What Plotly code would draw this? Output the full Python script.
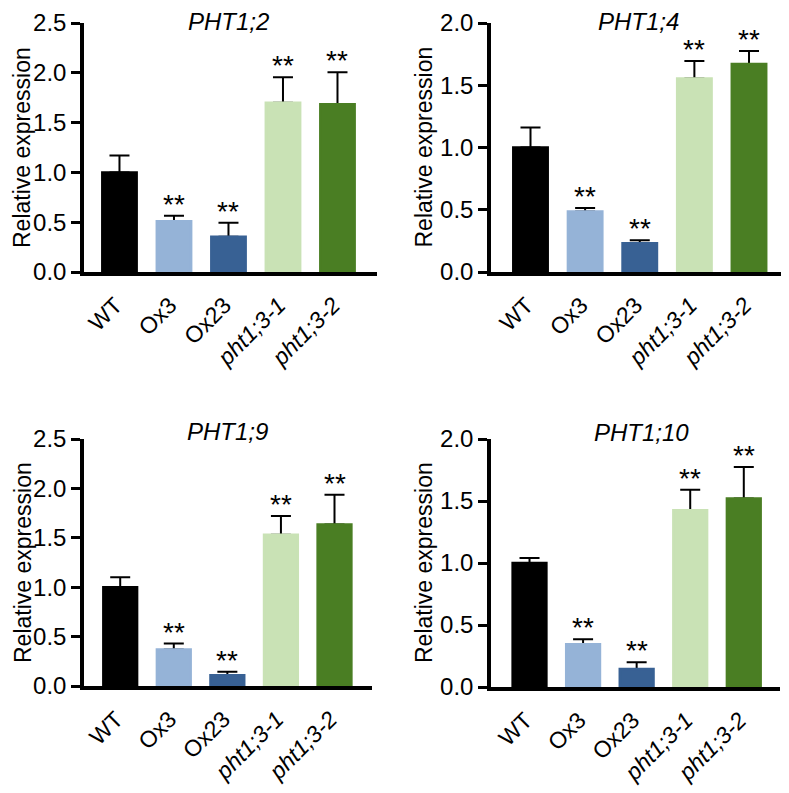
import plotly.graph_objects as go

# ---------------- data ----------------
categories = ["WT", "Ox3", "Ox23", "pht1;3-1", "pht1;3-2"]
tick_labels = ["WT", "Ox3", "Ox23", "<i>pht1;3-1</i>", "<i>pht1;3-2</i>"]
bar_colors = ["#000000", "#95B3D7", "#386194", "#C9E2B5", "#4A7E23"]

genes = ["PHT1;2", "PHT1;4", "PHT1;9", "PHT1;10"]

pht1_2_mean = [1.00, 0.51, 0.355, 1.70, 1.685]
pht1_2_sd = [0.17, 0.055, 0.14, 0.255, 0.32]

pht1_4_mean = [1.00, 0.485, 0.23, 1.555, 1.67]
pht1_4_sd = [0.16, 0.03, 0.025, 0.14, 0.105]

pht1_9_mean = [1.00, 0.37, 0.11, 1.53, 1.635]
pht1_9_sd = [0.10, 0.06, 0.035, 0.19, 0.30]

pht1_10_mean = [1.00, 0.345, 0.145, 1.425, 1.52]
pht1_10_sd = [0.04, 0.04, 0.055, 0.165, 0.255]

significance = ["", "**", "**", "**", "**"]

y_max = [2.5, 2.0, 2.5, 2.0]

# ---------------- layout helpers ----------------
# the page body has an 8px margin, so the figure is sized to fit the window
OFF = 8
W, H = 789 - OFF, 793 - OFF
FONT = "Arial, Liberation Sans, Helvetica, sans-serif"


def fx(px):
    return (px - OFF) / W


def fy(py):
    return 1 - (py - OFF) / H


panels = [
    dict(x0=84, x1=377, yt=23, yb=272, xr=[-0.651, 4.725], tcx=228, tcy=22, ycx=22.5),
    dict(x0=491, x1=782, yt=23, yb=272, xr=[-0.723, 4.604], tcx=638, tcy=22, ycx=424),
    dict(x0=84, x1=372, yt=439, yb=686, xr=[-0.676, 4.70], tcx=227, tcy=431, ycx=22.5),
    dict(x0=491, x1=780, yt=439, yb=687, xr=[-0.719, 4.676], tcx=641, tcy=432, ycx=424),
]
means = [pht1_2_mean, pht1_4_mean, pht1_9_mean, pht1_10_mean]
sds = [pht1_2_sd, pht1_4_sd, pht1_9_sd, pht1_10_sd]

fig = go.Figure()
annotations = []

for i, p in enumerate(panels):
    n = i + 1
    xa = "x" if n == 1 else f"x{n}"
    ya = "y" if n == 1 else f"y{n}"
    # error bars (drawn first, under the bars so no lower cap shows)
    fig.add_trace(go.Bar(
        x=categories, y=means[i], xaxis=xa, yaxis=ya,
        marker=dict(color="rgba(0,0,0,0)", line=dict(width=0)),
        width=0.62, hoverinfo="skip",
        error_y=dict(type="data", symmetric=False, array=sds[i],
                     arrayminus=[0] * len(categories),
                     color="black", thickness=2, width=10),
    ))
    fig.add_trace(go.Bar(
        x=categories, y=means[i], xaxis=xa, yaxis=ya,
        marker=dict(color=bar_colors, line=dict(color=bar_colors, width=2.5)),
        width=0.63,
    ))
    # significance stars
    for c, m, s, t in zip(categories, means[i], sds[i], significance):
        if t:
            annotations.append(dict(
                x=c, y=m + s, xref=xa, yref=ya, text=t, showarrow=False,
                yanchor="bottom", xanchor="center", yshift=-6,
                font=dict(family=FONT, size=28, color="black"),
            ))
    # panel title
    annotations.append(dict(
        x=fx(p["tcx"]), y=fy(p["tcy"]), xref="paper", yref="paper",
        text=f"<i>{genes[i]}</i>", showarrow=False,
        xanchor="center", yanchor="middle",
        font=dict(family=FONT, size=24, color="black"),
    ))
    # y-axis title
    annotations.append(dict(
        x=fx(p["ycx"]), y=fy((p["yt"] + p["yb"]) / 2), xref="paper", yref="paper",
        text="Relative expression", showarrow=False, textangle=-90,
        xanchor="center", yanchor="middle",
        font=dict(family=FONT, size=23, color="black"),
    ))

    xkey = "xaxis" if n == 1 else f"xaxis{n}"
    ykey = "yaxis" if n == 1 else f"yaxis{n}"
    fig.update_layout(**{
        xkey: dict(
            domain=[fx(p["x0"]), fx(p["x1"])], anchor=ya,
            type="category", range=p["xr"], automargin=False,
            tickmode="array", tickvals=categories, ticktext=tick_labels,
            tickangle=-45, ticks="", showline=True, linecolor="black",
            linewidth=3.5, showgrid=False, zeroline=False,
            tickfont=dict(family=FONT, size=23, color="black"),
            ticklabelstandoff=7, ticklabelshift=-4, fixedrange=True,
        ),
        ykey: dict(
            domain=[fy(p["yb"]), fy(p["yt"])], anchor=xa,
            range=[0, y_max[i]], dtick=0.5, tick0=0, tickformat=".1f",
            automargin=False, ticklabeloverflow="allow",
            ticks="outside", ticklen=9, tickwidth=3, tickcolor="black",
            showline=True, linecolor="black", linewidth=3.5,
            showgrid=False, zeroline=False,
            tickfont=dict(family=FONT, size=24, color="black"),
            fixedrange=True,
        ),
    })

fig.update_layout(
    template="none",
    width=W, height=H, margin=dict(l=0, r=0, t=0, b=0, autoexpand=False),
    barmode="overlay", showlegend=False,
    plot_bgcolor="white", paper_bgcolor="white",
    annotations=annotations,
)

fig.write_html("out.html")
